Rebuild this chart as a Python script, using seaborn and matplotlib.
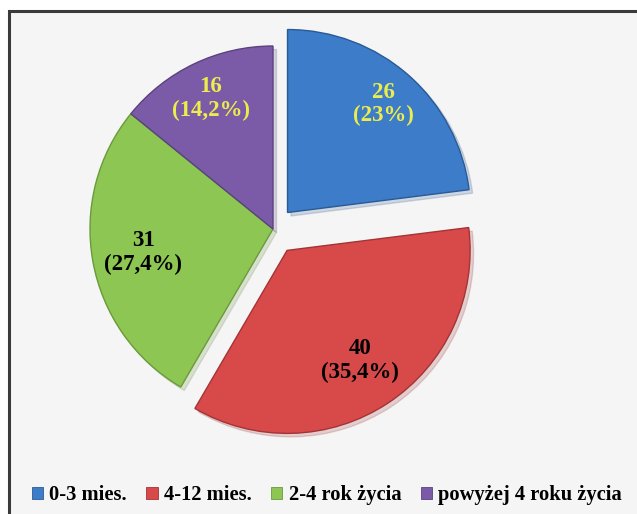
import numpy as np
import matplotlib
matplotlib.use('Agg')
import matplotlib.pyplot as plt
from matplotlib.patches import Patch, Rectangle
import seaborn as sns

# dane
categories = ['0-3 mies.', '4-12 mies.', '2-4 rok życia', 'powyżej 4 roku życia']
counts = [26, 40, 31, 16]
percents = ['23%', '35,4%', '27,4%', '14,2%']
colors = ['#3d7cc8', '#d8494a', '#8dc652', '#7b5ba7']
edge_colors = ['#2a5a96', '#a33436', '#6a9a3c', '#5a427e']
label_colors = ['#ecec4c', '#000000', '#000000', '#ecec4c']
explode = [0.12, 0.14, 0.0, 0.0]

sns.set_theme(style='white')
plt.rcParams['font.family'] = ['Liberation Serif', 'DejaVu Serif']
plt.rcParams['font.weight'] = 'bold'

fig = plt.figure(figsize=(6.37, 5.14), dpi=100)
fig.patch.set_facecolor('white')
ax = fig.add_axes([0, 0, 1, 1])

# ramka wykresu
ax.add_patch(Rectangle((9, -10), 640, 514 - 11 + 10, facecolor='#f5f5f5',
                       edgecolor='#3a3a3a', lw=2.2, zorder=0))

R = 183
wedges, _ = ax.pie(counts, colors=colors, startangle=90, counterclock=False,
                   explode=[e * R for e in explode], radius=R, center=(273, 285),
                   wedgeprops=dict(linewidth=1.0),
                   shadow=dict(ox=2.5, oy=-2.5, shade=0.3, alpha=0.2))
for w, ec in zip(wedges, edge_colors):
    w.set_edgecolor(ec)
    w.set_zorder(3)

ax.set_xlim(0, 637)
ax.set_ylim(0, 514)
ax.set_aspect('equal')
ax.axis('off')

# etykiety
label_dist = [0.79, 0.72, 0.72, 0.79]
for w, n, p, c, d in zip(wedges, counts, percents, label_colors, label_dist):
    th = np.deg2rad((w.theta1 + w.theta2) / 2)
    cx, cy = w.center
    x = cx + d * R * np.cos(th)
    y = cy + d * R * np.sin(th)
    ax.text(x, y, f'{n}\n({p})', ha='center', va='center', color=c,
            fontsize=16.5, fontweight='bold', linespacing=1.15, zorder=5)

handles = [Patch(facecolor=c, edgecolor=e, lw=0.6) for c, e in zip(colors, edge_colors)]
leg = fig.legend(handles, categories, loc='center', bbox_to_anchor=(0.513, 0.037), ncol=4,
                 frameon=False, handlelength=0.55, handleheight=0.55,
                 handletextpad=0.3, columnspacing=0.95,
                 prop=dict(family='Liberation Serif', weight='bold', size=14.8))
for t in leg.get_texts():
    t.set_color('black')

fig.savefig('out.png', dpi=100, facecolor='white')
